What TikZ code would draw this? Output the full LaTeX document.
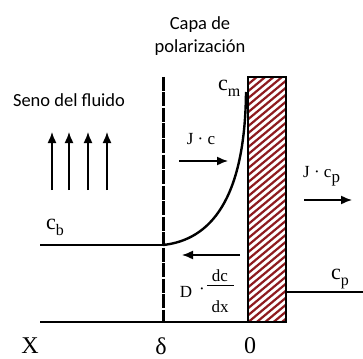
\documentclass[tikz,border=0pt]{standalone}
\usepackage{fontspec}
\setmainfont{Liberation Serif}
\newfontfamily\sansf{Carlito}
\usetikzlibrary{arrows.meta}
\definecolor{hatchred}{HTML}{8E1B1F}
\begin{document}
\begin{tikzpicture}[x=1pt,y=-1pt,
  thinline/.style={line width=1.4pt},
  arr/.style={line width=1.5pt,-{Latex[length=11pt,width=9pt]}},
  hatch/.style={hatchred,line width=2.2pt},
  sanslbl/.style={inner sep=0pt,font=\sansf\fontsize{18.5}{22}\selectfont},
  serlbl/.style={inner sep=0pt,font=\fontsize{17}{20}\selectfont},
  biglbl/.style={inner sep=0pt,font=\fontsize{22}{22}\selectfont},
  axlbl/.style={inner sep=0pt,font=\fontsize{24}{24}\selectfont}]
\useasboundingbox (0,0) rectangle (363,358);
\fill[white] (0,0) rectangle (363,358);

% hatched membrane
\begin{scope}
  \clip (248,77) rectangle (286,322);
  \foreach \k in {0,...,45} \draw[hatch] (240,77+7*\k) -- ++(60,-50);
\end{scope}
\draw[line width=1.6pt] (248,77) rectangle (286,322);

% coordinates
\coordinate (base0) at (40,322);
\coordinate (base1) at (286,322);
\coordinate (dtop) at (163,77);
\coordinate (dbot) at (163,322);
\coordinate (cb0) at (40,245);
\coordinate (cb1) at (163,245);
\coordinate (cwall) at (246,92);
\coordinate (cp0) at (286,292);
\coordinate (cp1) at (363,292);

\draw[thinline] (base0) -- (base1);
\draw[thinline] (cb0) -- (cb1);
\draw[thinline] (cp0) -- (cp1);
\draw[line width=3pt,dash pattern=on 14pt off 1.5pt] (dtop) -- (dbot);
\draw[line width=2.4pt] (cb1) .. controls (210,240) and (245,200) .. (cwall);

% up arrows
\foreach \i/\x in {1/52,2/69,3/88,4/107}{
  \coordinate (ua\i) at (\x,190);
  \coordinate (ub\i) at (\x,132);
  \draw[arr] (ua\i) -- (ub\i);
}

% flux arrows
\coordinate (jc0) at (179,161);
\coordinate (jc1) at (228,161);
\draw[arr] (jc0) -- (jc1);
\coordinate (jp0) at (304,200);
\coordinate (jp1) at (352,200);
\draw[arr] (jp0) -- (jp1);
\coordinate (dd0) at (240,255);
\coordinate (dd1) at (182,255);
\draw[arr] (dd0) -- (dd1);

% labels
\node[sanslbl] (capa) at (200,25) {Capa de};
\node[sanslbl] (polar) at (200,48) {polarización};
\node[sanslbl] (seno) at (69,100) {Seno del fluido};

\node[serlbl] (jc) at (201,139) {J · c};
\node[serlbl,anchor=base west] (jcp) at (303,177) {J · c\raisebox{-5pt}{p}};

\node[biglbl,anchor=base west] (cm) at (218,91) {c\raisebox{-6pt}{\fontsize{16}{16}\selectfont m}};
\node[biglbl,anchor=base west] (cb) at (46,229) {c\raisebox{-6pt}{\fontsize{16}{16}\selectfont b}};
\node[biglbl,anchor=base west] (cp) at (331,279) {c\raisebox{-6pt}{\fontsize{16}{16}\selectfont p}};

\node[serlbl] (D) at (186,292) {D};
\node[serlbl] (dot) at (202,291) {·};
\node[serlbl] (dc) at (220,276) {dc};
\node[serlbl] (dx) at (220,307) {dx};
\coordinate (fb0) at (207,285);
\coordinate (fb1) at (234,285);
\draw[line width=0.9pt] (fb0) -- (fb1);

\node[axlbl] (X) at (30,346) {X};
\node[axlbl] (delta) at (161,346) {δ};
\node[axlbl] (zero) at (250,346) {0};
\end{tikzpicture}
\end{document}
